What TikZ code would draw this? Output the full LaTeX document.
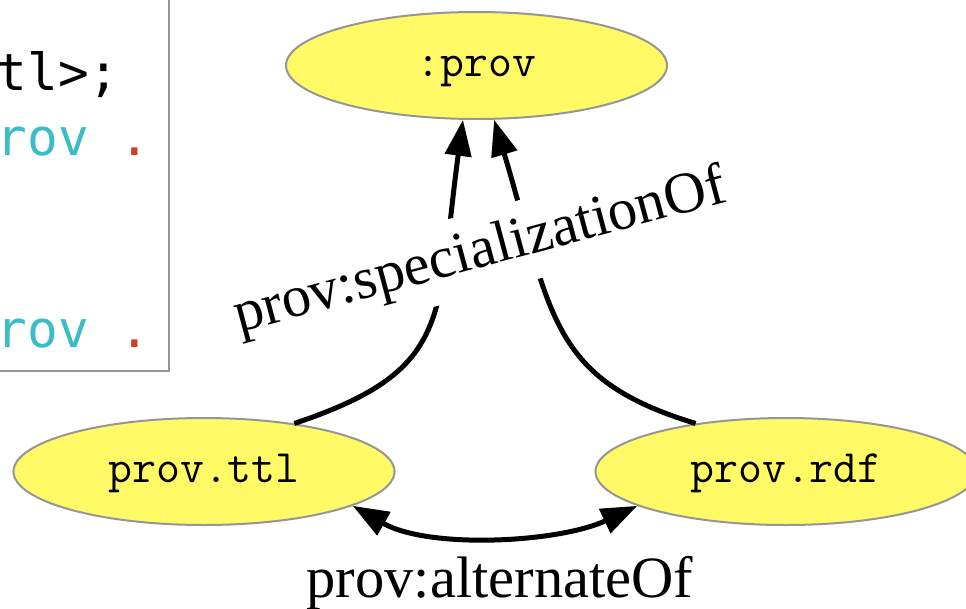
\documentclass[tikz,border=0pt]{standalone}
\usepackage{fontspec}
\newfontfamily\codefont{DejaVu Sans Mono}
\newfontfamily\lblfont{Liberation Serif}
\usetikzlibrary{shapes.geometric,arrows.meta}
\definecolor{ellfill}{RGB}{255,250,102}
\definecolor{ellline}{RGB}{150,150,150}
\definecolor{codeteal}{RGB}{59,188,200}
\definecolor{codered}{RGB}{205,62,40}
\definecolor{boxline}{RGB}{150,150,150}
\begin{document}
\begin{tikzpicture}[x=1pt,y=-1pt,
  ell/.style={ellipse,draw=ellline,line width=2pt,fill=ellfill,minimum width=381pt,minimum height=107pt,inner sep=0pt,font=\fontsize{46.5}{48}\ttfamily,text height=22.8pt,text depth=0pt},
  rel/.style={line width=5pt},
  tri/.style={-{Triangle[length=36pt,width=26pt]}},
  bitri/.style={{Triangle[length=36pt,width=26pt]}-{Triangle[length=36pt,width=26pt]}},
  lbl/.style={font=\fontsize{58.5}{60}\lblfont,inner sep=0pt},
  code/.style={font=\fontsize{51}{60}\codefont,anchor=base west,inner sep=0pt}]
\useasboundingbox (0,0) rectangle (966,608);
\fill[white] (0,0) rectangle (966,608);
\begin{scope}
\clip (0,0) rectangle (966,608);
% code panel (partly outside the picture)
\node[draw=boxline,line width=2pt,anchor=south east,minimum width=220pt,minimum height=420pt,inner sep=0pt] (codebox) at (170,372) {};
\node[code] (c1) at (-3.6,90) {tl>;};
\node[code] (c2) at (-3.6,155) {\color{codeteal}rov {\color{codered}.}};
\node[code] (c3) at (-3.6,347) {\color{codeteal}rov {\color{codered}.}};
% nodes
\node[ell] (prov) at (476.5,65.5) {:prov};
\node[ell] (ttl) at (204,471.5) {prov.ttl};
\node[ell] (rdf) at (786,471.5) {prov.rdf};
% edges
\draw[rel,tri] (ttl.28.5) .. controls (454,370) and (436,319) .. (prov.256);
\draw[rel,tri] (rdf.152.7) .. controls (548.6,378.9) and (552.2,314.6) .. (prov.288);
\node[lbl,fill=white,rotate=15,anchor=base,text height=41.5pt,text depth=11.5pt,inner xsep=6pt,inner ysep=14pt] (spec) at (484,267) {prov:specializationOf};
\draw[rel,bitri] (ttl.347) .. controls (429,549.5) and (559,542.6) .. (rdf.193);
\node[lbl,anchor=base] (alt) at (500,597) {prov:alternateOf};
\end{scope}
\end{tikzpicture}
\end{document}
